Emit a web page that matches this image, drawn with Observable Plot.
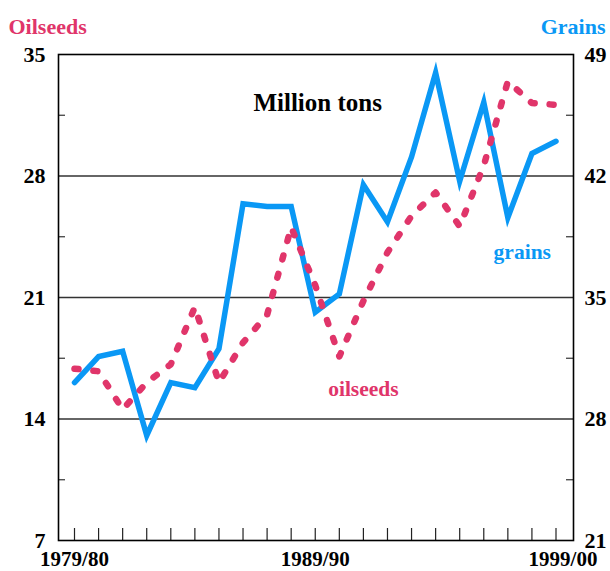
<!DOCTYPE html>
<html>
<head>
<meta charset="utf-8">
<script src="https://cdn.jsdelivr.net/npm/d3@7"></script>
<script src="https://cdn.jsdelivr.net/npm/@observablehq/plot@0.6"></script>
<style>
  html, body { margin: 0; padding: 0; background: #fff; }
  svg, svg text { font-family: "Liberation Serif", "Times New Roman", serif !important; font-weight: bold; }
</style>
</head>
<body>
<div id="chart"></div>
<script>
// Crop years (1979 = 1979/80 ... 1999 = 1999/00)
const years = d3.range(1979, 2000);
// Oilseeds, million tons (left scale)
const oilseeds = [16.9, 16.75, 14.55, 16.1, 17.15, 20.45, 16.1, 18.4, 20.0, 25.05, 21.7, 17.6, 20.8, 23.6, 25.7, 27.05, 25.1, 28.6, 33.45, 32.2, 32.1];
// Grains, million tons (right scale)
const grains = [30.1, 31.6, 31.9, 27.05, 30.1, 29.8, 32.05, 40.4, 40.25, 40.25, 34.15, 35.2, 41.5, 39.35, 43.1, 47.95, 41.7, 46.25, 39.6, 43.3, 44.0];
// Axis ticks
const leftTicks = [7, 14, 21, 28, 35];
const minorTicks = [10.5, 17.5, 24.5, 31.5];
const gridTicks = [14, 21, 28];
const rightOffset = 14; // right scale = left scale + 14
const labelledYears = [1979, 1989];
const lastYear = [1999];
// Annotations (in data coordinates)
const annotations = [
  {year: 1989.1, value: 32.2, text: "Million tons", color: "#000", size: 25},
  {year: 1997.6, value: 23.6, text: "grains", color: "#0a98f5", size: 21.5},
  {year: 1991.0, value: 15.7, text: "oilseeds", color: "#e0356a", size: 21.5}
];

const BLUE = "#0a98f5";
const PINK = "#e0356a";
const FONT = "'Liberation Serif', 'Times New Roman', serif";

const table = years.map((y, i) => ({year: y, oil: oilseeds[i], grain: grains[i]}));
const yearLabel = d => `${d}/${String((d + 1) % 100).padStart(2, "0")}`;
const txt = {fontFamily: FONT, fontWeight: "bold"};

const chart = Plot.plot({
  width: 610,
  height: 571,
  marginLeft: 58,
  marginRight: 37,
  marginTop: 54,
  marginBottom: 31,
  style: {fontFamily: FONT, fontWeight: "bold", fontSize: "22px", background: "#fff", color: "#000"},
  x: {domain: [1979, 1999], insetLeft: 16, insetRight: 17.5, axis: null},
  y: {domain: [7, 35], axis: null},
  marks: [
    Plot.ruleY(gridTicks, {stroke: "#333", strokeWidth: 1.3}),
    // minor ticks on left and right axes (inside)
    Plot.tickY(minorTicks, {y: d => d, insetRight: 508, stroke: "#333", strokeWidth: 1.2}),
    Plot.tickY(minorTicks, {y: d => d, insetLeft: 508, stroke: "#333", strokeWidth: 1.2}),
    // year ticks along bottom (inside)
    Plot.tickX(years, {x: d => d, insetTop: 474, stroke: "#222", strokeWidth: 1.2}),
    Plot.frame({stroke: "#000", strokeWidth: 1.6}),
    Plot.line(table, {x: "year", y: d => d.grain - rightOffset, stroke: BLUE, strokeWidth: 5.5, strokeLinejoin: "miter", strokeMiterlimit: 6}),
    Plot.line(table, {x: "year", y: "oil", stroke: PINK, strokeWidth: 6.5, strokeDasharray: "4,15", strokeLinecap: "round", strokeLinejoin: "round"}),
    Plot.axisY(leftTicks, {anchor: "left", tickSize: 0, tickPadding: 13, label: null, fontSize: 22, ...txt, fill: "#000"}),
    Plot.axisY(leftTicks, {anchor: "right", tickSize: 0, tickPadding: 11, tickFormat: d => d + rightOffset, label: null, fontSize: 22, ...txt, fill: "#000"}),
    Plot.axisX(labelledYears, {anchor: "bottom", tickSize: 0, tickPadding: 11, tickFormat: yearLabel, label: null, fontSize: 21, ...txt, fill: "#000"}),
    Plot.axisX(lastYear, {anchor: "bottom", tickSize: 0, tickPadding: 11, dx: 7, tickFormat: yearLabel, label: null, fontSize: 21, ...txt, fill: "#000"}),
    Plot.text(["Oilseeds"], {frameAnchor: "top-left", textAnchor: "start", dx: -50, dy: -36, fill: PINK, fontSize: 22, ...txt}),
    Plot.text(["Grains"], {frameAnchor: "top-right", textAnchor: "end", dx: 32, dy: -36, fill: BLUE, fontSize: 22, ...txt}),
    Plot.text(annotations, {x: "year", y: "value", text: "text", fill: "color", fontSize: d => d.size, ...txt})
  ]
});

document.getElementById("chart").appendChild(chart);
</script>
</body>
</html>
